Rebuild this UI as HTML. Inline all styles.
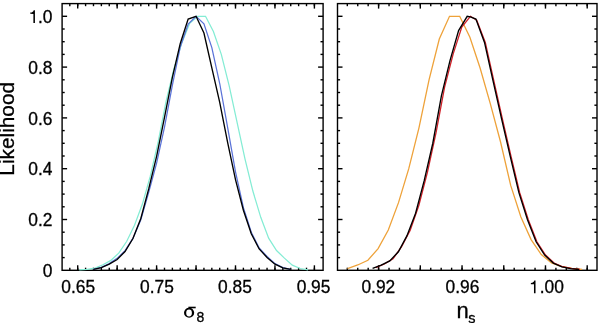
<!DOCTYPE html>
<html><head><meta charset="utf-8"><style>
html,body{margin:0;padding:0;background:#fff;}
svg{display:block;will-change:transform;}
text{font-family:"Liberation Sans",sans-serif;fill:#000;stroke:#000;stroke-width:0.3px;}
</style></head><body>
<svg width="600" height="323" viewBox="0 0 600 323">
<rect width="600" height="323" fill="#fff"/>
<rect x="62.10" y="3.60" width="261.00" height="266.70" fill="none" stroke="#000" stroke-width="1.4"/>
<line x1="69.81" y1="270.30" x2="69.81" y2="267.70" stroke="#000" stroke-width="1.4"/>
<line x1="69.81" y1="3.60" x2="69.81" y2="6.20" stroke="#000" stroke-width="1.4"/>
<line x1="77.70" y1="270.30" x2="77.70" y2="267.70" stroke="#000" stroke-width="1.4"/>
<line x1="77.70" y1="3.60" x2="77.70" y2="6.20" stroke="#000" stroke-width="1.4"/>
<line x1="85.59" y1="270.30" x2="85.59" y2="267.70" stroke="#000" stroke-width="1.4"/>
<line x1="85.59" y1="3.60" x2="85.59" y2="6.20" stroke="#000" stroke-width="1.4"/>
<line x1="93.48" y1="270.30" x2="93.48" y2="267.70" stroke="#000" stroke-width="1.4"/>
<line x1="93.48" y1="3.60" x2="93.48" y2="6.20" stroke="#000" stroke-width="1.4"/>
<line x1="101.37" y1="270.30" x2="101.37" y2="267.70" stroke="#000" stroke-width="1.4"/>
<line x1="101.37" y1="3.60" x2="101.37" y2="6.20" stroke="#000" stroke-width="1.4"/>
<line x1="109.26" y1="270.30" x2="109.26" y2="267.70" stroke="#000" stroke-width="1.4"/>
<line x1="109.26" y1="3.60" x2="109.26" y2="6.20" stroke="#000" stroke-width="1.4"/>
<line x1="117.15" y1="270.30" x2="117.15" y2="267.70" stroke="#000" stroke-width="1.4"/>
<line x1="117.15" y1="3.60" x2="117.15" y2="6.20" stroke="#000" stroke-width="1.4"/>
<line x1="125.04" y1="270.30" x2="125.04" y2="267.70" stroke="#000" stroke-width="1.4"/>
<line x1="125.04" y1="3.60" x2="125.04" y2="6.20" stroke="#000" stroke-width="1.4"/>
<line x1="132.93" y1="270.30" x2="132.93" y2="267.70" stroke="#000" stroke-width="1.4"/>
<line x1="132.93" y1="3.60" x2="132.93" y2="6.20" stroke="#000" stroke-width="1.4"/>
<line x1="140.82" y1="270.30" x2="140.82" y2="267.70" stroke="#000" stroke-width="1.4"/>
<line x1="140.82" y1="3.60" x2="140.82" y2="6.20" stroke="#000" stroke-width="1.4"/>
<line x1="148.71" y1="270.30" x2="148.71" y2="267.70" stroke="#000" stroke-width="1.4"/>
<line x1="148.71" y1="3.60" x2="148.71" y2="6.20" stroke="#000" stroke-width="1.4"/>
<line x1="156.60" y1="270.30" x2="156.60" y2="267.70" stroke="#000" stroke-width="1.4"/>
<line x1="156.60" y1="3.60" x2="156.60" y2="6.20" stroke="#000" stroke-width="1.4"/>
<line x1="164.49" y1="270.30" x2="164.49" y2="267.70" stroke="#000" stroke-width="1.4"/>
<line x1="164.49" y1="3.60" x2="164.49" y2="6.20" stroke="#000" stroke-width="1.4"/>
<line x1="172.38" y1="270.30" x2="172.38" y2="267.70" stroke="#000" stroke-width="1.4"/>
<line x1="172.38" y1="3.60" x2="172.38" y2="6.20" stroke="#000" stroke-width="1.4"/>
<line x1="180.27" y1="270.30" x2="180.27" y2="267.70" stroke="#000" stroke-width="1.4"/>
<line x1="180.27" y1="3.60" x2="180.27" y2="6.20" stroke="#000" stroke-width="1.4"/>
<line x1="188.16" y1="270.30" x2="188.16" y2="267.70" stroke="#000" stroke-width="1.4"/>
<line x1="188.16" y1="3.60" x2="188.16" y2="6.20" stroke="#000" stroke-width="1.4"/>
<line x1="196.05" y1="270.30" x2="196.05" y2="267.70" stroke="#000" stroke-width="1.4"/>
<line x1="196.05" y1="3.60" x2="196.05" y2="6.20" stroke="#000" stroke-width="1.4"/>
<line x1="203.94" y1="270.30" x2="203.94" y2="267.70" stroke="#000" stroke-width="1.4"/>
<line x1="203.94" y1="3.60" x2="203.94" y2="6.20" stroke="#000" stroke-width="1.4"/>
<line x1="211.83" y1="270.30" x2="211.83" y2="267.70" stroke="#000" stroke-width="1.4"/>
<line x1="211.83" y1="3.60" x2="211.83" y2="6.20" stroke="#000" stroke-width="1.4"/>
<line x1="219.72" y1="270.30" x2="219.72" y2="267.70" stroke="#000" stroke-width="1.4"/>
<line x1="219.72" y1="3.60" x2="219.72" y2="6.20" stroke="#000" stroke-width="1.4"/>
<line x1="227.61" y1="270.30" x2="227.61" y2="267.70" stroke="#000" stroke-width="1.4"/>
<line x1="227.61" y1="3.60" x2="227.61" y2="6.20" stroke="#000" stroke-width="1.4"/>
<line x1="235.50" y1="270.30" x2="235.50" y2="267.70" stroke="#000" stroke-width="1.4"/>
<line x1="235.50" y1="3.60" x2="235.50" y2="6.20" stroke="#000" stroke-width="1.4"/>
<line x1="243.39" y1="270.30" x2="243.39" y2="267.70" stroke="#000" stroke-width="1.4"/>
<line x1="243.39" y1="3.60" x2="243.39" y2="6.20" stroke="#000" stroke-width="1.4"/>
<line x1="251.28" y1="270.30" x2="251.28" y2="267.70" stroke="#000" stroke-width="1.4"/>
<line x1="251.28" y1="3.60" x2="251.28" y2="6.20" stroke="#000" stroke-width="1.4"/>
<line x1="259.17" y1="270.30" x2="259.17" y2="267.70" stroke="#000" stroke-width="1.4"/>
<line x1="259.17" y1="3.60" x2="259.17" y2="6.20" stroke="#000" stroke-width="1.4"/>
<line x1="267.06" y1="270.30" x2="267.06" y2="267.70" stroke="#000" stroke-width="1.4"/>
<line x1="267.06" y1="3.60" x2="267.06" y2="6.20" stroke="#000" stroke-width="1.4"/>
<line x1="274.95" y1="270.30" x2="274.95" y2="267.70" stroke="#000" stroke-width="1.4"/>
<line x1="274.95" y1="3.60" x2="274.95" y2="6.20" stroke="#000" stroke-width="1.4"/>
<line x1="282.84" y1="270.30" x2="282.84" y2="267.70" stroke="#000" stroke-width="1.4"/>
<line x1="282.84" y1="3.60" x2="282.84" y2="6.20" stroke="#000" stroke-width="1.4"/>
<line x1="290.73" y1="270.30" x2="290.73" y2="267.70" stroke="#000" stroke-width="1.4"/>
<line x1="290.73" y1="3.60" x2="290.73" y2="6.20" stroke="#000" stroke-width="1.4"/>
<line x1="298.62" y1="270.30" x2="298.62" y2="267.70" stroke="#000" stroke-width="1.4"/>
<line x1="298.62" y1="3.60" x2="298.62" y2="6.20" stroke="#000" stroke-width="1.4"/>
<line x1="306.51" y1="270.30" x2="306.51" y2="267.70" stroke="#000" stroke-width="1.4"/>
<line x1="306.51" y1="3.60" x2="306.51" y2="6.20" stroke="#000" stroke-width="1.4"/>
<line x1="314.40" y1="270.30" x2="314.40" y2="267.70" stroke="#000" stroke-width="1.4"/>
<line x1="314.40" y1="3.60" x2="314.40" y2="6.20" stroke="#000" stroke-width="1.4"/>
<line x1="77.70" y1="270.30" x2="77.70" y2="265.30" stroke="#000" stroke-width="1.4"/>
<line x1="77.70" y1="3.60" x2="77.70" y2="8.60" stroke="#000" stroke-width="1.4"/>
<line x1="117.15" y1="270.30" x2="117.15" y2="265.30" stroke="#000" stroke-width="1.4"/>
<line x1="117.15" y1="3.60" x2="117.15" y2="8.60" stroke="#000" stroke-width="1.4"/>
<line x1="156.60" y1="270.30" x2="156.60" y2="265.30" stroke="#000" stroke-width="1.4"/>
<line x1="156.60" y1="3.60" x2="156.60" y2="8.60" stroke="#000" stroke-width="1.4"/>
<line x1="196.05" y1="270.30" x2="196.05" y2="265.30" stroke="#000" stroke-width="1.4"/>
<line x1="196.05" y1="3.60" x2="196.05" y2="8.60" stroke="#000" stroke-width="1.4"/>
<line x1="235.50" y1="270.30" x2="235.50" y2="265.30" stroke="#000" stroke-width="1.4"/>
<line x1="235.50" y1="3.60" x2="235.50" y2="8.60" stroke="#000" stroke-width="1.4"/>
<line x1="274.95" y1="270.30" x2="274.95" y2="265.30" stroke="#000" stroke-width="1.4"/>
<line x1="274.95" y1="3.60" x2="274.95" y2="8.60" stroke="#000" stroke-width="1.4"/>
<line x1="314.40" y1="270.30" x2="314.40" y2="265.30" stroke="#000" stroke-width="1.4"/>
<line x1="314.40" y1="3.60" x2="314.40" y2="8.60" stroke="#000" stroke-width="1.4"/>
<line x1="62.10" y1="257.60" x2="64.70" y2="257.60" stroke="#000" stroke-width="1.4"/>
<line x1="323.10" y1="257.60" x2="320.50" y2="257.60" stroke="#000" stroke-width="1.4"/>
<line x1="62.10" y1="244.90" x2="64.70" y2="244.90" stroke="#000" stroke-width="1.4"/>
<line x1="323.10" y1="244.90" x2="320.50" y2="244.90" stroke="#000" stroke-width="1.4"/>
<line x1="62.10" y1="232.20" x2="64.70" y2="232.20" stroke="#000" stroke-width="1.4"/>
<line x1="323.10" y1="232.20" x2="320.50" y2="232.20" stroke="#000" stroke-width="1.4"/>
<line x1="62.10" y1="219.50" x2="67.10" y2="219.50" stroke="#000" stroke-width="1.4"/>
<line x1="323.10" y1="219.50" x2="318.10" y2="219.50" stroke="#000" stroke-width="1.4"/>
<line x1="62.10" y1="206.80" x2="64.70" y2="206.80" stroke="#000" stroke-width="1.4"/>
<line x1="323.10" y1="206.80" x2="320.50" y2="206.80" stroke="#000" stroke-width="1.4"/>
<line x1="62.10" y1="194.10" x2="64.70" y2="194.10" stroke="#000" stroke-width="1.4"/>
<line x1="323.10" y1="194.10" x2="320.50" y2="194.10" stroke="#000" stroke-width="1.4"/>
<line x1="62.10" y1="181.40" x2="64.70" y2="181.40" stroke="#000" stroke-width="1.4"/>
<line x1="323.10" y1="181.40" x2="320.50" y2="181.40" stroke="#000" stroke-width="1.4"/>
<line x1="62.10" y1="168.70" x2="67.10" y2="168.70" stroke="#000" stroke-width="1.4"/>
<line x1="323.10" y1="168.70" x2="318.10" y2="168.70" stroke="#000" stroke-width="1.4"/>
<line x1="62.10" y1="156.00" x2="64.70" y2="156.00" stroke="#000" stroke-width="1.4"/>
<line x1="323.10" y1="156.00" x2="320.50" y2="156.00" stroke="#000" stroke-width="1.4"/>
<line x1="62.10" y1="143.30" x2="64.70" y2="143.30" stroke="#000" stroke-width="1.4"/>
<line x1="323.10" y1="143.30" x2="320.50" y2="143.30" stroke="#000" stroke-width="1.4"/>
<line x1="62.10" y1="130.60" x2="64.70" y2="130.60" stroke="#000" stroke-width="1.4"/>
<line x1="323.10" y1="130.60" x2="320.50" y2="130.60" stroke="#000" stroke-width="1.4"/>
<line x1="62.10" y1="117.90" x2="67.10" y2="117.90" stroke="#000" stroke-width="1.4"/>
<line x1="323.10" y1="117.90" x2="318.10" y2="117.90" stroke="#000" stroke-width="1.4"/>
<line x1="62.10" y1="105.20" x2="64.70" y2="105.20" stroke="#000" stroke-width="1.4"/>
<line x1="323.10" y1="105.20" x2="320.50" y2="105.20" stroke="#000" stroke-width="1.4"/>
<line x1="62.10" y1="92.50" x2="64.70" y2="92.50" stroke="#000" stroke-width="1.4"/>
<line x1="323.10" y1="92.50" x2="320.50" y2="92.50" stroke="#000" stroke-width="1.4"/>
<line x1="62.10" y1="79.80" x2="64.70" y2="79.80" stroke="#000" stroke-width="1.4"/>
<line x1="323.10" y1="79.80" x2="320.50" y2="79.80" stroke="#000" stroke-width="1.4"/>
<line x1="62.10" y1="67.10" x2="67.10" y2="67.10" stroke="#000" stroke-width="1.4"/>
<line x1="323.10" y1="67.10" x2="318.10" y2="67.10" stroke="#000" stroke-width="1.4"/>
<line x1="62.10" y1="54.40" x2="64.70" y2="54.40" stroke="#000" stroke-width="1.4"/>
<line x1="323.10" y1="54.40" x2="320.50" y2="54.40" stroke="#000" stroke-width="1.4"/>
<line x1="62.10" y1="41.70" x2="64.70" y2="41.70" stroke="#000" stroke-width="1.4"/>
<line x1="323.10" y1="41.70" x2="320.50" y2="41.70" stroke="#000" stroke-width="1.4"/>
<line x1="62.10" y1="29.00" x2="64.70" y2="29.00" stroke="#000" stroke-width="1.4"/>
<line x1="323.10" y1="29.00" x2="320.50" y2="29.00" stroke="#000" stroke-width="1.4"/>
<line x1="62.10" y1="16.30" x2="67.10" y2="16.30" stroke="#000" stroke-width="1.4"/>
<line x1="323.10" y1="16.30" x2="318.10" y2="16.30" stroke="#000" stroke-width="1.4"/>
<rect x="337.50" y="3.60" width="259.50" height="266.70" fill="none" stroke="#000" stroke-width="1.4"/>
<line x1="347.31" y1="270.30" x2="347.31" y2="267.70" stroke="#000" stroke-width="1.4"/>
<line x1="347.31" y1="3.60" x2="347.31" y2="6.20" stroke="#000" stroke-width="1.4"/>
<line x1="357.74" y1="270.30" x2="357.74" y2="267.70" stroke="#000" stroke-width="1.4"/>
<line x1="357.74" y1="3.60" x2="357.74" y2="6.20" stroke="#000" stroke-width="1.4"/>
<line x1="368.17" y1="270.30" x2="368.17" y2="267.70" stroke="#000" stroke-width="1.4"/>
<line x1="368.17" y1="3.60" x2="368.17" y2="6.20" stroke="#000" stroke-width="1.4"/>
<line x1="378.60" y1="270.30" x2="378.60" y2="267.70" stroke="#000" stroke-width="1.4"/>
<line x1="378.60" y1="3.60" x2="378.60" y2="6.20" stroke="#000" stroke-width="1.4"/>
<line x1="389.03" y1="270.30" x2="389.03" y2="267.70" stroke="#000" stroke-width="1.4"/>
<line x1="389.03" y1="3.60" x2="389.03" y2="6.20" stroke="#000" stroke-width="1.4"/>
<line x1="399.46" y1="270.30" x2="399.46" y2="267.70" stroke="#000" stroke-width="1.4"/>
<line x1="399.46" y1="3.60" x2="399.46" y2="6.20" stroke="#000" stroke-width="1.4"/>
<line x1="409.89" y1="270.30" x2="409.89" y2="267.70" stroke="#000" stroke-width="1.4"/>
<line x1="409.89" y1="3.60" x2="409.89" y2="6.20" stroke="#000" stroke-width="1.4"/>
<line x1="420.32" y1="270.30" x2="420.32" y2="267.70" stroke="#000" stroke-width="1.4"/>
<line x1="420.32" y1="3.60" x2="420.32" y2="6.20" stroke="#000" stroke-width="1.4"/>
<line x1="430.75" y1="270.30" x2="430.75" y2="267.70" stroke="#000" stroke-width="1.4"/>
<line x1="430.75" y1="3.60" x2="430.75" y2="6.20" stroke="#000" stroke-width="1.4"/>
<line x1="441.18" y1="270.30" x2="441.18" y2="267.70" stroke="#000" stroke-width="1.4"/>
<line x1="441.18" y1="3.60" x2="441.18" y2="6.20" stroke="#000" stroke-width="1.4"/>
<line x1="451.61" y1="270.30" x2="451.61" y2="267.70" stroke="#000" stroke-width="1.4"/>
<line x1="451.61" y1="3.60" x2="451.61" y2="6.20" stroke="#000" stroke-width="1.4"/>
<line x1="462.04" y1="270.30" x2="462.04" y2="267.70" stroke="#000" stroke-width="1.4"/>
<line x1="462.04" y1="3.60" x2="462.04" y2="6.20" stroke="#000" stroke-width="1.4"/>
<line x1="472.47" y1="270.30" x2="472.47" y2="267.70" stroke="#000" stroke-width="1.4"/>
<line x1="472.47" y1="3.60" x2="472.47" y2="6.20" stroke="#000" stroke-width="1.4"/>
<line x1="482.90" y1="270.30" x2="482.90" y2="267.70" stroke="#000" stroke-width="1.4"/>
<line x1="482.90" y1="3.60" x2="482.90" y2="6.20" stroke="#000" stroke-width="1.4"/>
<line x1="493.33" y1="270.30" x2="493.33" y2="267.70" stroke="#000" stroke-width="1.4"/>
<line x1="493.33" y1="3.60" x2="493.33" y2="6.20" stroke="#000" stroke-width="1.4"/>
<line x1="503.76" y1="270.30" x2="503.76" y2="267.70" stroke="#000" stroke-width="1.4"/>
<line x1="503.76" y1="3.60" x2="503.76" y2="6.20" stroke="#000" stroke-width="1.4"/>
<line x1="514.19" y1="270.30" x2="514.19" y2="267.70" stroke="#000" stroke-width="1.4"/>
<line x1="514.19" y1="3.60" x2="514.19" y2="6.20" stroke="#000" stroke-width="1.4"/>
<line x1="524.62" y1="270.30" x2="524.62" y2="267.70" stroke="#000" stroke-width="1.4"/>
<line x1="524.62" y1="3.60" x2="524.62" y2="6.20" stroke="#000" stroke-width="1.4"/>
<line x1="535.05" y1="270.30" x2="535.05" y2="267.70" stroke="#000" stroke-width="1.4"/>
<line x1="535.05" y1="3.60" x2="535.05" y2="6.20" stroke="#000" stroke-width="1.4"/>
<line x1="545.48" y1="270.30" x2="545.48" y2="267.70" stroke="#000" stroke-width="1.4"/>
<line x1="545.48" y1="3.60" x2="545.48" y2="6.20" stroke="#000" stroke-width="1.4"/>
<line x1="555.91" y1="270.30" x2="555.91" y2="267.70" stroke="#000" stroke-width="1.4"/>
<line x1="555.91" y1="3.60" x2="555.91" y2="6.20" stroke="#000" stroke-width="1.4"/>
<line x1="566.34" y1="270.30" x2="566.34" y2="267.70" stroke="#000" stroke-width="1.4"/>
<line x1="566.34" y1="3.60" x2="566.34" y2="6.20" stroke="#000" stroke-width="1.4"/>
<line x1="576.77" y1="270.30" x2="576.77" y2="267.70" stroke="#000" stroke-width="1.4"/>
<line x1="576.77" y1="3.60" x2="576.77" y2="6.20" stroke="#000" stroke-width="1.4"/>
<line x1="587.20" y1="270.30" x2="587.20" y2="267.70" stroke="#000" stroke-width="1.4"/>
<line x1="587.20" y1="3.60" x2="587.20" y2="6.20" stroke="#000" stroke-width="1.4"/>
<line x1="378.60" y1="270.30" x2="378.60" y2="265.30" stroke="#000" stroke-width="1.4"/>
<line x1="378.60" y1="3.60" x2="378.60" y2="8.60" stroke="#000" stroke-width="1.4"/>
<line x1="420.32" y1="270.30" x2="420.32" y2="265.30" stroke="#000" stroke-width="1.4"/>
<line x1="420.32" y1="3.60" x2="420.32" y2="8.60" stroke="#000" stroke-width="1.4"/>
<line x1="462.04" y1="270.30" x2="462.04" y2="265.30" stroke="#000" stroke-width="1.4"/>
<line x1="462.04" y1="3.60" x2="462.04" y2="8.60" stroke="#000" stroke-width="1.4"/>
<line x1="503.76" y1="270.30" x2="503.76" y2="265.30" stroke="#000" stroke-width="1.4"/>
<line x1="503.76" y1="3.60" x2="503.76" y2="8.60" stroke="#000" stroke-width="1.4"/>
<line x1="545.48" y1="270.30" x2="545.48" y2="265.30" stroke="#000" stroke-width="1.4"/>
<line x1="545.48" y1="3.60" x2="545.48" y2="8.60" stroke="#000" stroke-width="1.4"/>
<line x1="587.20" y1="270.30" x2="587.20" y2="265.30" stroke="#000" stroke-width="1.4"/>
<line x1="587.20" y1="3.60" x2="587.20" y2="8.60" stroke="#000" stroke-width="1.4"/>
<line x1="337.50" y1="257.60" x2="340.10" y2="257.60" stroke="#000" stroke-width="1.4"/>
<line x1="597.00" y1="257.60" x2="594.40" y2="257.60" stroke="#000" stroke-width="1.4"/>
<line x1="337.50" y1="244.90" x2="340.10" y2="244.90" stroke="#000" stroke-width="1.4"/>
<line x1="597.00" y1="244.90" x2="594.40" y2="244.90" stroke="#000" stroke-width="1.4"/>
<line x1="337.50" y1="232.20" x2="340.10" y2="232.20" stroke="#000" stroke-width="1.4"/>
<line x1="597.00" y1="232.20" x2="594.40" y2="232.20" stroke="#000" stroke-width="1.4"/>
<line x1="337.50" y1="219.50" x2="342.50" y2="219.50" stroke="#000" stroke-width="1.4"/>
<line x1="597.00" y1="219.50" x2="592.00" y2="219.50" stroke="#000" stroke-width="1.4"/>
<line x1="337.50" y1="206.80" x2="340.10" y2="206.80" stroke="#000" stroke-width="1.4"/>
<line x1="597.00" y1="206.80" x2="594.40" y2="206.80" stroke="#000" stroke-width="1.4"/>
<line x1="337.50" y1="194.10" x2="340.10" y2="194.10" stroke="#000" stroke-width="1.4"/>
<line x1="597.00" y1="194.10" x2="594.40" y2="194.10" stroke="#000" stroke-width="1.4"/>
<line x1="337.50" y1="181.40" x2="340.10" y2="181.40" stroke="#000" stroke-width="1.4"/>
<line x1="597.00" y1="181.40" x2="594.40" y2="181.40" stroke="#000" stroke-width="1.4"/>
<line x1="337.50" y1="168.70" x2="342.50" y2="168.70" stroke="#000" stroke-width="1.4"/>
<line x1="597.00" y1="168.70" x2="592.00" y2="168.70" stroke="#000" stroke-width="1.4"/>
<line x1="337.50" y1="156.00" x2="340.10" y2="156.00" stroke="#000" stroke-width="1.4"/>
<line x1="597.00" y1="156.00" x2="594.40" y2="156.00" stroke="#000" stroke-width="1.4"/>
<line x1="337.50" y1="143.30" x2="340.10" y2="143.30" stroke="#000" stroke-width="1.4"/>
<line x1="597.00" y1="143.30" x2="594.40" y2="143.30" stroke="#000" stroke-width="1.4"/>
<line x1="337.50" y1="130.60" x2="340.10" y2="130.60" stroke="#000" stroke-width="1.4"/>
<line x1="597.00" y1="130.60" x2="594.40" y2="130.60" stroke="#000" stroke-width="1.4"/>
<line x1="337.50" y1="117.90" x2="342.50" y2="117.90" stroke="#000" stroke-width="1.4"/>
<line x1="597.00" y1="117.90" x2="592.00" y2="117.90" stroke="#000" stroke-width="1.4"/>
<line x1="337.50" y1="105.20" x2="340.10" y2="105.20" stroke="#000" stroke-width="1.4"/>
<line x1="597.00" y1="105.20" x2="594.40" y2="105.20" stroke="#000" stroke-width="1.4"/>
<line x1="337.50" y1="92.50" x2="340.10" y2="92.50" stroke="#000" stroke-width="1.4"/>
<line x1="597.00" y1="92.50" x2="594.40" y2="92.50" stroke="#000" stroke-width="1.4"/>
<line x1="337.50" y1="79.80" x2="340.10" y2="79.80" stroke="#000" stroke-width="1.4"/>
<line x1="597.00" y1="79.80" x2="594.40" y2="79.80" stroke="#000" stroke-width="1.4"/>
<line x1="337.50" y1="67.10" x2="342.50" y2="67.10" stroke="#000" stroke-width="1.4"/>
<line x1="597.00" y1="67.10" x2="592.00" y2="67.10" stroke="#000" stroke-width="1.4"/>
<line x1="337.50" y1="54.40" x2="340.10" y2="54.40" stroke="#000" stroke-width="1.4"/>
<line x1="597.00" y1="54.40" x2="594.40" y2="54.40" stroke="#000" stroke-width="1.4"/>
<line x1="337.50" y1="41.70" x2="340.10" y2="41.70" stroke="#000" stroke-width="1.4"/>
<line x1="597.00" y1="41.70" x2="594.40" y2="41.70" stroke="#000" stroke-width="1.4"/>
<line x1="337.50" y1="29.00" x2="340.10" y2="29.00" stroke="#000" stroke-width="1.4"/>
<line x1="597.00" y1="29.00" x2="594.40" y2="29.00" stroke="#000" stroke-width="1.4"/>
<line x1="337.50" y1="16.30" x2="342.50" y2="16.30" stroke="#000" stroke-width="1.4"/>
<line x1="597.00" y1="16.30" x2="592.00" y2="16.30" stroke="#000" stroke-width="1.4"/>
<polyline points="79.28,269.82 87.17,269.37 95.06,268.10 102.95,264.72 110.84,260.41 118.73,253.14 126.62,241.56 134.51,225.17 142.40,204.06 150.29,176.18 158.18,141.84 166.07,101.36 173.96,68.72 181.85,42.69 189.74,23.20 197.63,16.30 205.52,16.30 213.41,31.57 221.30,54.34 229.19,85.78 237.08,122.47 244.97,158.86 252.86,191.03 260.75,217.33 268.64,238.16 276.53,250.54 284.42,258.13 292.31,265.11 300.20,268.52 308.09,269.77" fill="none" stroke="#84ecd4" stroke-width="1.25" stroke-linejoin="miter"/>
<polyline points="93.48,269.27 101.37,267.35 109.26,263.63 117.15,258.35 125.04,250.61 132.93,238.46 140.82,219.71 148.71,192.40 156.60,163.08 164.49,127.03 172.38,85.08 180.27,46.98 188.16,24.15 196.05,16.30 203.94,23.92 211.83,47.64 219.72,83.50 227.61,127.46 235.50,171.77 243.39,207.59 251.28,232.25 259.17,247.91 267.06,256.54 274.95,263.67 282.84,267.64 290.73,269.37" fill="none" stroke="#5a72d8" stroke-width="1.25" stroke-linejoin="miter"/>
<polyline points="93.48,269.41 101.37,267.69 109.26,264.14 117.15,259.47 125.04,251.52 132.93,238.49 140.82,218.44 148.71,188.91 156.60,156.35 164.49,117.47 172.38,77.30 180.27,43.42 188.16,19.09 196.05,16.30 203.94,33.06 211.83,67.86 219.72,102.43 227.61,142.30 235.50,179.56 243.39,210.27 251.28,233.83 259.17,248.94 267.06,257.44 274.95,264.23 282.84,267.85 290.73,269.42" fill="none" stroke="#000" stroke-width="1.35" stroke-linejoin="miter"/>
<polyline points="347.50,268.52 357.70,264.97 367.90,260.29 378.10,248.58 388.30,230.05 398.50,202.66 408.70,168.95 418.90,128.05 429.10,79.70 439.30,39.08 449.50,16.30 459.70,16.30 469.90,37.19 480.10,67.98 490.30,103.67 500.50,141.78 510.70,185.43 520.90,216.97 531.10,239.56 541.30,254.52 551.50,262.97 561.70,266.68 571.90,268.40 582.10,269.34" fill="none" stroke="#eea23a" stroke-width="1.3" stroke-linejoin="miter"/>
<polyline points="375.80,267.57 384.40,264.00 393.00,258.87 401.60,246.72 410.20,230.24 418.80,205.49 427.40,172.46 436.00,132.88 444.60,87.10 453.20,53.90 461.80,27.09 470.40,16.30 476.70,20.11 485.30,42.44 493.90,81.14 502.50,119.41 511.10,156.67 519.70,192.63 528.30,219.80 536.90,241.78 545.50,255.10 554.10,263.07 562.70,266.73 571.30,268.45 579.90,269.38" fill="none" stroke="#d02028" stroke-width="1.3" stroke-linejoin="miter"/>
<polyline points="372.60,268.46 381.20,265.21 389.80,260.90 398.40,251.73 407.00,235.62 415.60,213.26 424.20,180.69 432.80,143.24 441.40,95.82 450.00,60.66 458.60,30.60 467.20,16.30 470.40,16.81 475.90,19.09 484.50,42.44 493.10,81.14 501.70,119.41 510.30,156.67 518.90,192.63 527.50,219.80 536.10,241.78 544.70,255.10 553.30,263.07 561.90,266.82 570.50,268.58 579.10,269.50" fill="none" stroke="#000" stroke-width="1.35" stroke-linejoin="miter"/>
<text x="78.15" y="293.35" text-anchor="middle" font-size="18" textLength="33.80" lengthAdjust="spacingAndGlyphs">0.65</text>
<text x="156.97" y="293.35" text-anchor="middle" font-size="18" textLength="33.80" lengthAdjust="spacingAndGlyphs">0.75</text>
<text x="234.90" y="293.35" text-anchor="middle" font-size="18" textLength="33.80" lengthAdjust="spacingAndGlyphs">0.85</text>
<text x="313.55" y="293.35" text-anchor="middle" font-size="18" textLength="33.80" lengthAdjust="spacingAndGlyphs">0.95</text>
<text x="378.35" y="293.35" text-anchor="middle" font-size="18" textLength="33.80" lengthAdjust="spacingAndGlyphs">0.92</text>
<text x="462.40" y="293.35" text-anchor="middle" font-size="18" textLength="33.80" lengthAdjust="spacingAndGlyphs">0.96</text>
<path transform="translate(528.95,293.35) scale(0.0174,-0.0180)" d="M 289 0 L 378 0 L 378 709 L 305 709 C 290 640 240 585 110 572 L 110 505 L 289 500 Z" fill="#000"/>
<text x="539.70" y="293.35" font-size="18" textLength="24.14" lengthAdjust="spacingAndGlyphs">.00</text>
<text x="52.5" y="276.90" text-anchor="end" font-size="18" textLength="9.66" lengthAdjust="spacingAndGlyphs">0</text>
<text x="52.5" y="226.10" text-anchor="end" font-size="18" textLength="24.14" lengthAdjust="spacingAndGlyphs">0.2</text>
<text x="52.5" y="175.30" text-anchor="end" font-size="18" textLength="24.14" lengthAdjust="spacingAndGlyphs">0.4</text>
<text x="52.5" y="124.50" text-anchor="end" font-size="18" textLength="24.14" lengthAdjust="spacingAndGlyphs">0.6</text>
<text x="52.5" y="73.70" text-anchor="end" font-size="18" textLength="24.14" lengthAdjust="spacingAndGlyphs">0.8</text>
<path transform="translate(28.36,22.90) scale(0.0174,-0.0180)" d="M 289 0 L 378 0 L 378 709 L 305 709 C 290 640 240 585 110 572 L 110 505 L 289 500 Z" fill="#000"/>
<text x="38.01" y="22.90" font-size="18" textLength="14.49" lengthAdjust="spacingAndGlyphs">.0</text>
<path fill-rule="evenodd" fill="#000" d="M184.0,312.75 A5.1,5.05 0 1,0 194.2,312.75 A5.1,5.05 0 1,0 184.0,312.75 Z M186.2,312.95 A2.85,3.45 0 1,0 191.9,312.95 A2.85,3.45 0 1,0 186.2,312.95 Z"/>
<path fill="#000" d="M188.4,306.7 L195.7,306.7 L195.7,308.3 L188.4,308.3 Z"/>
<text x="196.6" y="322.1" font-size="14">8</text>
<text x="456.6" y="317.5" font-size="22">n</text>
<text x="468.3" y="322.6" font-size="14.5">s</text>
<text transform="translate(14.2,128.8) rotate(-90)" text-anchor="middle" font-size="20.8">Likelihood</text>
</svg>
</body></html>
